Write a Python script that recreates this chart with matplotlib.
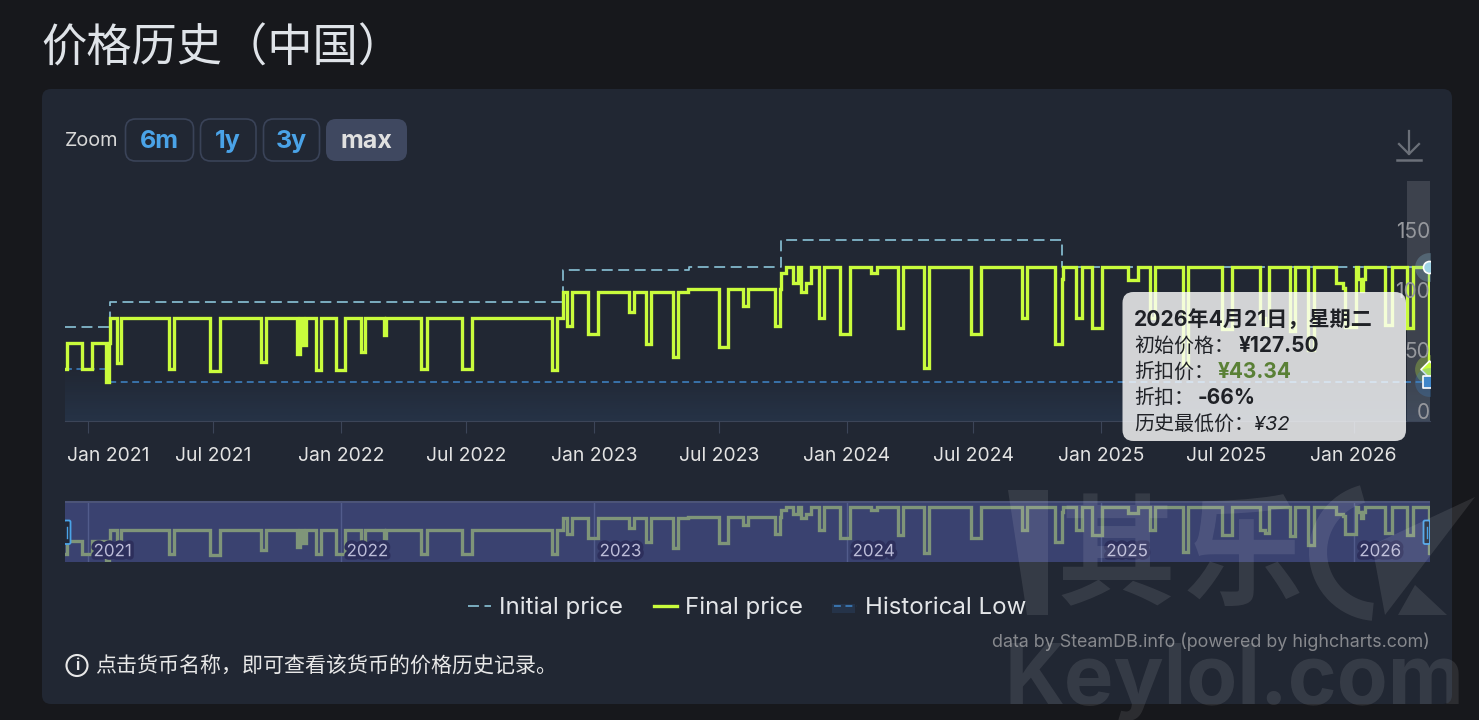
import matplotlib
matplotlib.use('Agg')
import matplotlib.pyplot as plt
import matplotlib.dates as mdates
import matplotlib.patheffects as pe
import numpy as np
from matplotlib.patches import FancyBboxPatch, Polygon, Rectangle, Circle, Arc

plt.rcParams['font.family'] = ['Inter', 'Noto Sans CJK SC', 'DejaVu Sans']

# days since 2021-01-01
start_date = '2021-01-01'
first_day = -33.2
last_day = 1936.1

final_days = [-33.2, -29.8, -8.2, 5.3, 26, 29.8, 31.8, 41.4, 47.2, 116.4, 124.1, 176, 190.5,
              249.6, 256.8, 301.1, 305.9, 310.7, 314.5, 329, 335.7, 357.3, 371.3, 393.9, 400.1,
              427.5, 430, 480.4, 488.6, 539.6, 554, 669, 676.2, 685.8, 691.6, 698.8, 721.4,
              735.8, 781, 788.2, 805, 811.8, 843.5, 851.7, 866.1, 909.9, 923.8, 944.5, 952.7,
              991.2, 998.4, 999.5, 1007, 1016.7, 1023.9, 1028.7, 1035.9, 1043.1, 1055.1, 1061.9,
              1084.9, 1099.4, 1130.2, 1137.9, 1168.6, 1175.4, 1206.1, 1212.9, 1273.9, 1287.9,
              1347, 1355.1, 1395, 1404.7, 1407.1, 1425.3, 1433.5, 1448, 1462.4, 1500.8, 1515.3,
              1532.2, 1539.4, 1579.3, 1587.5, 1636.5, 1650.9, 1690.9, 1698.1, 1704.3, 1734.1,
              1741.4, 1760.6, 1768.8, 1800.5, 1811.1, 1813.5, 1828.9, 1832.2, 1836.5, 1839.4,
              1842.3, 1871.2, 1880.8, 1902.5, 1911, 1934.7, 1936.1]
final_values = [43, 65, 43, 65, 32, 65, 85, 48, 85, 43, 85, 41.5, 85,
                49, 85, 55.5, 85, 63, 85, 42, 85, 42, 85, 57, 85,
                71, 85, 43, 85, 43, 85, 42.5, 85, 107, 79, 107, 72,
                107, 90, 107, 64, 107, 53, 107, 109, 61.5, 109, 95, 109,
                79, 109, 122.4, 127.5, 114.6, 127.5, 107, 114.6, 127.5, 85.6, 127.5,
                72, 127.5, 122.4, 127.5, 77, 127.5, 44, 127.5, 72, 127.5,
                85.6, 127.5, 64, 118, 127.5, 85.6, 127.5, 77, 127.5, 117, 127.5,
                85.5, 127.5, 46.5, 127.5, 76.5, 127.5, 85.5, 79.5, 127.5, 75,
                127.5, 58.5, 127.5, 114, 110, 77.7, 127.5, 118, 108, 118,
                127.5, 79.5, 127.5, 77, 127.5, 43.34, 43.34]

initial_days = [-33.2, 31.7, 685.8, 867.6, 999.3, 1405.6, 1936.1]
initial_values = [78, 99, 125, 127.5, 150, 127.5, 127.5]

low_days = [-33.2, 26, 1936.1]
low_values = [43, 32, 32]

tick_dates = ['2021-01-01', '2021-07-01', '2022-01-01', '2022-07-01', '2023-01-01', '2023-07-01',
              '2024-01-01', '2024-07-01', '2025-01-01', '2025-07-01', '2026-01-01']
tick_labels = ['Jan 2021', 'Jul 2021', 'Jan 2022', 'Jul 2022', 'Jan 2023', 'Jul 2023',
               'Jan 2024', 'Jul 2024', 'Jan 2025', 'Jul 2025', 'Jan 2026']
y_ticks = [0, 50, 100, 150]
nav_dates = ['2021-01-01', '2022-01-01', '2023-01-01', '2024-01-01', '2025-01-01', '2026-01-01']
nav_labels = ['2021', '2022', '2023', '2024', '2025', '2026']

W, H = 1479, 720
PAGE = '#17181c'
CARD = '#212733'
LIME = '#c9fc3c'
INIT = '#86bdd2'
LOW = '#3f86c9'


def px_rect(x0, y0, x1, y1):
    return [x0 / W, 1 - y1 / H, (x1 - x0) / W, (y1 - y0) / H]


fig = plt.figure(figsize=(W / 100, H / 100), dpi=100, facecolor=PAGE)

base = mdates.datestr2num(start_date)
x_final = base + np.array(final_days)
x_init = base + np.array(initial_days)
x_low = base + np.array(low_days)
x_min, x_max = base + first_day, base + last_day

# background layer in pixel coordinates
bg = fig.add_axes([0, 0, 1, 1], zorder=0)
bg.set_xlim(0, W)
bg.set_ylim(H, 0)
bg.axis('off')
bg.add_patch(FancyBboxPatch((42, 89), 1410, 615, boxstyle='round,pad=0,rounding_size=9',
                            fc=CARD, ec='none'))
bg.text(41, 49, '价格历史（中国）', fontsize=32.6, color='#dfe3e8', va='center', ha='left')
bg.text(65, 141, 'Zoom', fontsize=14.3, color='#d8d8d8', va='center')

buttons = [('6m', 125.5, 193.5), ('1y', 200.5, 256), ('3y', 263.5, 319.5), ('max', 326, 407)]
for label, x0, x1 in buttons:
    active = label == 'max'
    bg.add_patch(FancyBboxPatch((x0, 119), x1 - x0, 42, boxstyle='round,pad=0,rounding_size=10',
                                fc='#3f4860' if active else 'none',
                                ec='none' if active else '#3a4358', lw=1.2))
    bg.text((x0 + x1) / 2, 141.5, label, fontsize=18, fontweight='bold',
            color='#e0e0e0' if active else '#4aa3e8', ha='center', va='center')

# download icon
icon = '#6b7079'
bg.plot([1409, 1409], [131, 154], color=icon, lw=1.6)
bg.plot([1399, 1409, 1419], [144, 154, 144], color=icon, lw=1.6)
bg.plot([1397, 1421], [159.5, 159.5], color=icon, lw=1.8)

# info line
bg.add_patch(Circle((77, 665.5), 10.5, fc='none', ec='#e8e8e8', lw=1.5))
bg.text(77, 666, 'i', fontsize=11, fontweight='bold', color='#e8e8e8', ha='center', va='center')
bg.text(95, 666.5, '点击货币名称，即可查看该货币的价格历史记录。', fontsize=15.1,
        color='#e8e8e8', va='center')
bg.text(1429.5, 642, 'data by SteamDB.info (powered by highcharts.com)', fontsize=12.9,
        color='#86888d', ha='right', va='center')

# main chart
ax = fig.add_axes(px_rect(65, 181, 1430, 421), zorder=1)
ax.patch.set_alpha(0)
for s in ax.spines.values():
    s.set_visible(False)
ax.spines['bottom'].set_visible(True)
ax.spines['bottom'].set_color('#3c4558')

area = ax.fill_between(x_low, 0, low_values, step='post', color='none')
gradient = np.zeros((64, 2, 4))
gradient[..., :3] = matplotlib.colors.to_rgb('#4a90e2')
gradient[..., 3] = np.linspace(0.11, 0.0, 64)[:, None] * np.ones((64, 2))
img = ax.imshow(gradient, extent=[x_min, x_max, 0, 45], origin='lower', aspect='auto', zorder=1)
img.set_clip_path(area.get_paths()[0], ax.transData)

ax.axvspan(base + 1903, x_max, color='white', alpha=0.13, lw=0, zorder=1.5)

init_line, = ax.step(x_init, initial_values, where='post', color=INIT, lw=1.25,
                     linestyle=(0, (6.3, 3.2)), zorder=2, label='Initial price')
low_line, = ax.step(x_low, low_values, where='post', color=LOW, lw=1.1,
                    linestyle=(0, (4.5, 3)), zorder=2, label='Historical Low')
final_line, = ax.step(x_final, final_values, where='post', color=LIME, lw=2.4,
                      solid_joinstyle='miter', zorder=3, label='Final price')

# hover markers, cut off by the plot edge
ax.scatter([x_max - 0.8], [initial_values[-1]], s=430, color='#8fc3d8', alpha=0.28, lw=0, zorder=4)
ax.scatter([x_max - 0.8], [initial_values[-1]], s=75, color='#9fd3e6', ec='white', lw=1.2, zorder=4)
ax.scatter([x_max - 0.8], [final_values[-1]], s=430, color=LIME, alpha=0.28, lw=0, zorder=4)
ax.scatter([x_max - 0.8], [final_values[-1]], s=75, marker='D', color=LIME, ec='white', lw=1.2, zorder=4)
ax.scatter([x_max - 0.8], [low_values[-1]], s=430, color=LOW, alpha=0.28, lw=0, zorder=4)
ax.scatter([x_max - 0.8], [low_values[-1]], s=75, marker='s', color=LOW, ec='white', lw=1.2, zorder=4)

ax.set_xlim(x_min, x_max)
ax.set_ylim(0, 198.9)
ax.set_yticks([])
tick_x = mdates.datestr2num(tick_dates)
ax.set_xticks(tick_x)
ax.set_xticklabels([])
ax.tick_params(axis='x', length=8.5, width=0.8, color='#3c4558')

for i, (tx, label) in enumerate(zip(tick_x, tick_labels)):
    ax.annotate(label, (tx, 0), xycoords=ax.get_xaxis_transform(),
                xytext=(-15.3 if i == 0 else 0, -25.2), textcoords='offset points',
                ha='left' if i == 0 else 'center', va='center', fontsize=13.9, color='#e3e3e3',
                annotation_clip=False)
for v in y_ticks:
    ax.annotate(str(v), (1, v), xycoords=ax.get_yaxis_transform(), xytext=(0, 6),
                textcoords='offset points', ha='right', va='center', fontsize=15,
                color='#96989d', zorder=5)

# navigator
nav = fig.add_axes(px_rect(65, 502, 1430, 562), zorder=1)
nav.set_facecolor('#3a4270')
for s in nav.spines.values():
    s.set_visible(False)
nav.spines['top'].set_visible(True)
nav.spines['top'].set_color('#4c5478')
nav.spines['top'].set_linewidth(1.5)
nav_x = mdates.datestr2num(nav_dates)
nav.vlines(nav_x, 0, 200, color='#525c8c', lw=1, zorder=1)
nav.step(x_final, final_values, where='post', color='#7f9579', lw=2.4,
         solid_joinstyle='miter', zorder=2)
nav.set_xlim(x_min, x_max)
nav.set_ylim(28, 136)
nav.set_xticks([])
nav.set_yticks([])
for tx, label in zip(nav_x, nav_labels):
    nav.annotate(label, (tx, 0), xycoords=nav.get_xaxis_transform(), xytext=(4, 7.4),
                 textcoords='offset points', ha='left', va='center', fontsize=12.2,
                 color='#bcbcd8', zorder=3,
                 path_effects=[pe.withStroke(linewidth=5, foreground='#2d2f5c')])

# top layer: navigator handles, legend swatch, tooltip, watermark
top = fig.add_axes([0, 0, 1, 1], zorder=5)
top.set_xlim(0, W)
top.set_ylim(H, 0)
top.axis('off')
top.patch.set_alpha(0)

for x0, x1 in [(64, 70.5), (1423.5, 1430)]:
    top.add_patch(FancyBboxPatch((x0, 520.5), x1 - x0, 23.5, boxstyle='round,pad=0,rounding_size=1.5',
                                 fc='#222838', ec='#4aa3e8', lw=1.3))
    top.plot([(x0 + x1) / 2] * 2, [527, 538], color='#4aa3e8', lw=1)
top.add_patch(Rectangle((1430, 500), 8, 64, fc=CARD, ec='none'))
top.add_patch(Rectangle((55, 500), 10, 64, fc=CARD, ec='none'))

top.add_patch(Rectangle((832, 604), 23, 9, fc='#253349', ec='none'))

leg = fig.legend(handles=[init_line, final_line, low_line], loc='center',
                 bbox_to_anchor=(747 / W, 1 - 608 / H), ncol=3, frameon=False, fontsize=17.3,
                 handlelength=0.96, handletextpad=0.33, columnspacing=1.3, labelcolor='#e3e5e8')
leg.set_zorder(6)

top.add_patch(FancyBboxPatch((1122.5, 292), 283.5, 149, boxstyle='round,pad=0,rounding_size=11',
                             fc='white', alpha=0.8, ec='none'))
TT = '#1f2126'
top.text(1134, 319.5, '2026年4月21日，星期二', fontsize=15.2, fontweight='bold', color=TT, va='center')
top.text(1134, 346, '初始价格：', fontsize=14.4, color=TT, va='center')
top.text(1239, 346, '¥127.50', fontsize=15, fontweight='bold', color=TT, va='center')
top.text(1134, 372, '折扣价：', fontsize=14.4, color=TT, va='center')
top.text(1218, 372, '¥43.34', fontsize=15, fontweight='bold', color='#5a8036', va='center')
top.text(1134, 398, '折扣：', fontsize=14.4, color=TT, va='center')
top.text(1198, 398, '-66%', fontsize=15, fontweight='bold', color=TT, va='center')
top.text(1134, 424, '历史最低价：¥32', fontsize=14.4, style='italic', color=TT, va='center')

# site watermark over everything
mark = dict(color='white', alpha=0.095)
top.text(1116, 563, '其', fontsize=86, fontweight='bold', ha='center', va='center', **mark)
top.text(1243, 563, '乐', fontsize=86, fontweight='bold', ha='center', va='center', **mark)
top.text(1004, 682, 'Keylol.com', fontsize=60, fontweight='bold', ha='left', va='center', **mark)
top.add_patch(Polygon([(1008, 490), (1048, 490), (1048, 615), (1027, 615)], fc='white', alpha=0.095, ec='none'))
top.add_patch(Polygon([(1475, 497), (1372, 545), (1385, 615)], fc='white', alpha=0.095, ec='none'))
top.add_patch(Polygon([(1415, 585), (1447, 615), (1398, 615)], fc='white', alpha=0.095, ec='none'))
top.add_patch(Arc((1378, 552), 120, 120, theta1=95, theta2=255, color='white', alpha=0.095, lw=13))

plt.savefig('out.png', dpi=100, facecolor=PAGE)
plt.close()
